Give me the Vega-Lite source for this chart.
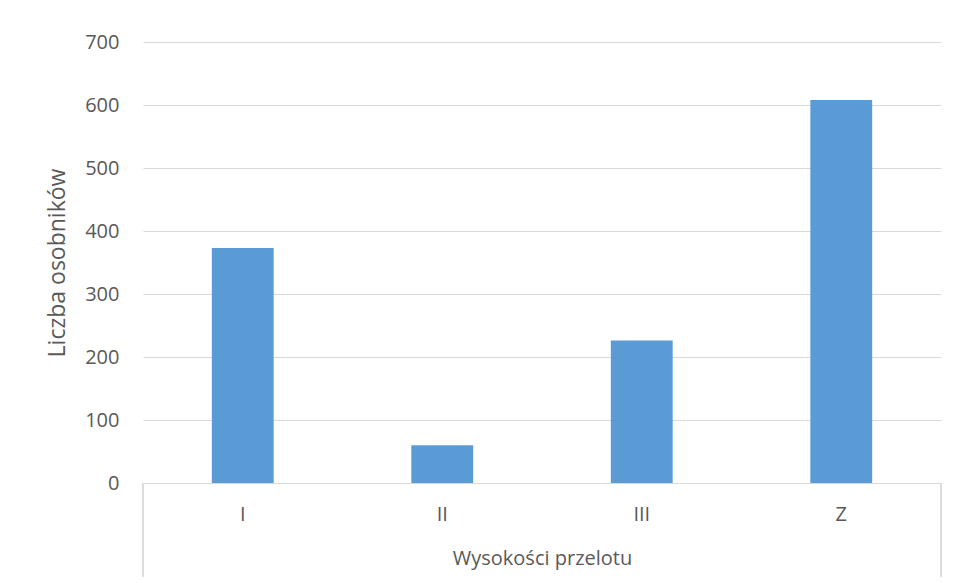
{
  "$schema": "https://vega.github.io/schema/vega-lite/v6.json",
  "width": 798,
  "height": 441,
  "autosize": {"type": "none"},
  "padding": {"left": 143, "top": 42, "right": 17, "bottom": 100},
  "background": "white",
  "config": {"view": {"stroke": null}, "font": "Open Sans"},
  "data": {"values": [
    {"h": "I", "n": 373},
    {"h": "II", "n": 60},
    {"h": "III", "n": 226},
    {"h": "Z", "n": 608}
  ]},
  "layer": [
    {
      "mark": {"type": "bar", "width": {"band": 0.31}, "color": "#5B9BD5"},
      "encoding": {
        "x": {
          "field": "h", "type": "nominal", "sort": null,
          "scale": {"paddingInner": 0, "paddingOuter": 0},
          "axis": {
            "title": "Wysokości przelotu", "labelAngle": 0, "ticks": false,
            "domainColor": "#D9D9D9", "labelColor": "#595959", "labelFontSize": 20,
            "labelPadding": 21, "titleFontSize": 20, "titleColor": "#595959",
            "titleFontWeight": "normal", "titlePadding": 24
          }
        },
        "y": {
          "field": "n", "type": "quantitative",
          "scale": {"domain": [0, 700], "nice": false},
          "axis": {
            "title": "Liczba osobników", "values": [0, 100, 200, 300, 400, 500, 600, 700],
            "ticks": false, "domain": false, "gridColor": "#D9D9D9",
            "labelColor": "#595959", "labelFontSize": 20, "labelPadding": 24,
            "titleFontSize": 23, "titleColor": "#595959", "titleFontWeight": "normal",
            "titlePadding": 15
          }
        }
      }
    },
    {
      "mark": {"type": "rule", "color": "#D9D9D9"},
      "encoding": {
        "x": {"datum": "I", "type": "nominal", "bandPosition": 0},
        "y": {"datum": 0, "type": "quantitative"},
        "y2": {"datum": -149}
      }
    },
    {
      "mark": {"type": "rule", "color": "#D9D9D9"},
      "encoding": {
        "x": {"datum": "Z", "type": "nominal", "bandPosition": 1},
        "y": {"datum": 0, "type": "quantitative"},
        "y2": {"datum": -149}
      }
    }
  ]
}
